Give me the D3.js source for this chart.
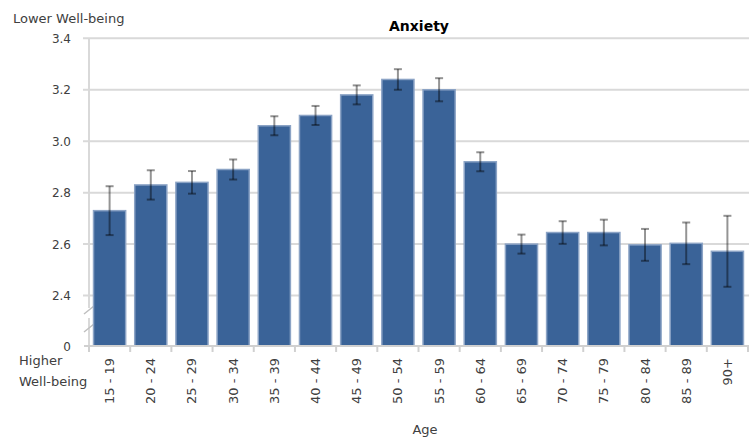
<!DOCTYPE html>
<html>
<head>
<meta charset="utf-8">
<script src="https://cdn.jsdelivr.net/npm/d3@7"></script>
<style>
  body { margin: 0; background: #fff; }
  text { font-family: "DejaVu Sans", Verdana, sans-serif; fill: #404040; }
</style>
</head>
<body>
<script>
const ageGroups = ["15 - 19", "20 - 24", "25 - 29", "30 - 34", "35 - 39", "40 - 44", "45 - 49", "50 - 54",
  "55 - 59", "60 - 64", "65 - 69", "70 - 74", "75 - 79", "80 - 84", "85 - 89", "90+"]
const anxiety = [2.73, 2.83, 2.84, 2.89, 3.06, 3.10, 3.18, 3.24, 3.20, 2.92, 2.60, 2.645, 2.645, 2.597, 2.603, 2.572]
const errors = [0.095, 0.057, 0.044, 0.039, 0.037, 0.037, 0.037, 0.04, 0.045, 0.037, 0.037, 0.044, 0.05, 0.062, 0.081, 0.138]
const yTicks = [2.4, 2.6, 2.8, 3.0, 3.2, 3.4]

const WIDTH = 749
const HEIGHT = 439

const svg = d3.select("body").append("svg")
  .attr("width", WIDTH)
  .attr("height", HEIGHT)

const x = d3.scaleBand()
  .domain(ageGroups)
  .range([89, 748])
  .paddingInner(0.22)
  .paddingOuter(0.11)

// bottom of the axis is a break, labelled 0
const y = d3.scaleLinear()
  .domain([2.2, 3.4])
  .range([347, 38.3])

const baseY = 346

// gridlines
svg.append("g")
  .selectAll("line")
  .data(yTicks)
  .join("line")
  .attr("x1", 83)
  .attr("x2", WIDTH)
  .attr("y1", d => y(d))
  .attr("y2", d => y(d))
  .attr("stroke", "#d9d9d9")
  .attr("stroke-width", 2)

// y labels
svg.append("g")
  .selectAll("text")
  .data(yTicks)
  .join("text")
  .attr("x", 71)
  .attr("y", d => y(d) + 4.5)
  .attr("text-anchor", "end")
  .style("font-size", "12px")
  .text(d => d.toFixed(1))

svg.append("text")
  .attr("x", 71)
  .attr("y", baseY + 4.5)
  .attr("text-anchor", "end")
  .style("font-size", "12px")
  .text("0")

// left axis with a break
svg.append("line")
  .attr("x1", 89).attr("x2", 89)
  .attr("y1", y(3.4)).attr("y2", 308)
  .attr("stroke", "#d9d9d9").attr("stroke-width", 2)
svg.append("line")
  .attr("x1", 89).attr("x2", 89)
  .attr("y1", 318).attr("y2", baseY)
  .attr("stroke", "#d9d9d9").attr("stroke-width", 2)
svg.append("path")
  .attr("d", "M84,314 L94,306 M84,332 L94,324")
  .attr("stroke", "#bfbfbf").attr("stroke-width", 1.5).attr("fill", "none")

// bars
svg.append("g")
  .selectAll("rect")
  .data(anxiety)
  .join("rect")
  .attr("x", (d, i) => x(ageGroups[i]))
  .attr("y", d => y(d))
  .attr("width", x.bandwidth())
  .attr("height", d => baseY - y(d))
  .attr("fill", "#3a6398")
  .attr("stroke", "#8ba3c5")
  .attr("stroke-width", 1.5)

// error bars
const err = svg.append("g")
  .attr("stroke", "rgba(0,0,0,0.42)")
  .attr("stroke-width", 2)
anxiety.forEach((d, i) => {
  const cx = x(ageGroups[i]) + x.bandwidth() / 2
  const lo = y(d - errors[i])
  const hi = y(d + errors[i])
  err.append("line").attr("x1", cx).attr("x2", cx).attr("y1", hi).attr("y2", lo)
  err.append("line").attr("x1", cx - 4).attr("x2", cx + 4).attr("y1", hi).attr("y2", hi)
  err.append("line").attr("x1", cx - 4).attr("x2", cx + 4).attr("y1", lo).attr("y2", lo)
})

// x axis baseline and ticks
svg.append("line")
  .attr("x1", 84).attr("x2", WIDTH)
  .attr("y1", baseY).attr("y2", baseY)
  .attr("stroke", "#d0d0d0").attr("stroke-width", 2)

const boundaries = ageGroups.map(g => x(g) - x.step() * x.paddingInner() / 2)
boundaries.push(x(ageGroups[ageGroups.length - 1]) + x.bandwidth() + x.step() * x.paddingInner() / 2)
svg.append("g")
  .selectAll("line")
  .data(boundaries)
  .join("line")
  .attr("x1", d => d).attr("x2", d => d)
  .attr("y1", baseY).attr("y2", baseY + 6)
  .attr("stroke", "#d0d0d0").attr("stroke-width", 2)

// x labels, rotated
svg.append("g")
  .selectAll("text")
  .data(ageGroups)
  .join("text")
  .attr("transform", d => `translate(${x(d) + x.bandwidth() / 2 + 4.5},358) rotate(-90)`)
  .attr("text-anchor", "end")
  .style("font-size", "13px")
  .text(d => d)

// titles
svg.append("text")
  .attr("x", 419).attr("y", 31)
  .attr("text-anchor", "middle")
  .style("font-size", "14px").style("font-weight", "bold")
  .style("fill", "#000")
  .text("Anxiety")

svg.append("text")
  .attr("x", 13).attr("y", 23)
  .style("font-size", "13px")
  .text("Lower Well-being")

svg.append("text")
  .attr("x", 19).attr("y", 365)
  .style("font-size", "13px")
  .text("Higher")
svg.append("text")
  .attr("x", 19).attr("y", 386)
  .style("font-size", "13px")
  .text("Well-being")

svg.append("text")
  .attr("x", 425).attr("y", 434)
  .attr("text-anchor", "middle")
  .style("font-size", "13px")
  .text("Age")
</script>
</body>
</html>
